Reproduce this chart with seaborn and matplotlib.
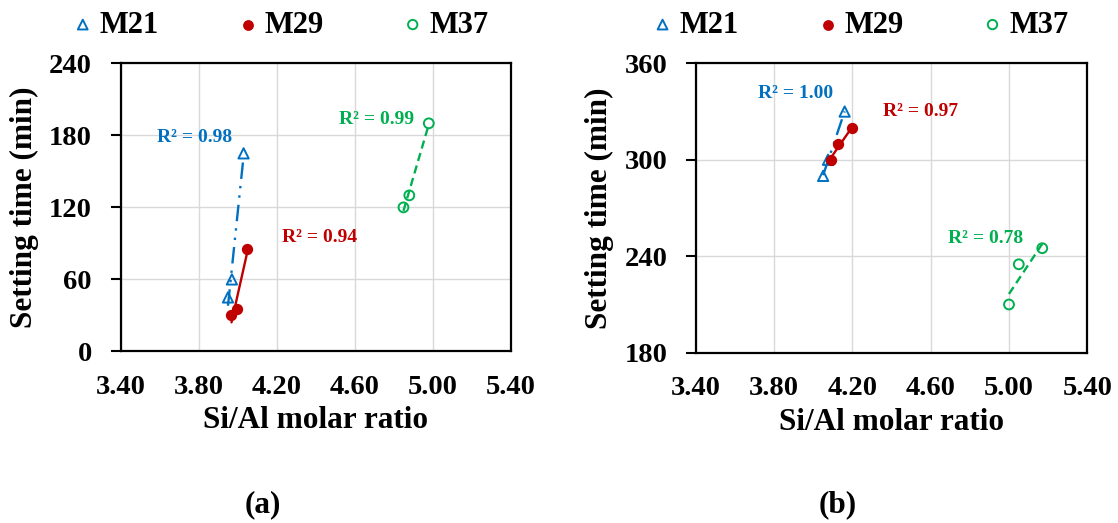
import matplotlib
matplotlib.use("Agg")
import matplotlib.pyplot as plt
import numpy as np
import seaborn as sns

# ---- data -------------------------------------------------------------
series = ["M21", "M29", "M37"]
colors = ["#0070C0", "#C00000", "#00B050"]

# panel (a): initial setting time
a_m21_x = [3.95, 3.97, 4.03]
a_m21_y = [45, 60, 165]
a_m29_x = [3.968, 3.995, 4.048]
a_m29_y = [30, 35, 85]
a_m37_x = [4.85, 4.88, 4.98]
a_m37_y = [120, 130, 190]
a_r2 = ["R² = 0.98", "R² = 0.94", "R² = 0.99"]

# panel (b): final setting time
b_m21_x = [4.05, 4.075, 4.16]
b_m21_y = [290, 300, 330]
b_m29_x = [4.09, 4.128, 4.20]
b_m29_y = [300, 310, 320]
b_m37_x = [5.00, 5.05, 5.17]
b_m37_y = [210, 235, 245]
b_r2 = ["R² = 1.00", "R² = 0.97", "R² = 0.78"]

x_ticks = [3.40, 3.80, 4.20, 4.60, 5.00, 5.40]
x_tick_labels = ["3.40", "3.80", "4.20", "4.60", "5.00", "5.40"]
a_y_ticks = [0, 60, 120, 180, 240]
b_y_ticks = [180, 240, 300, 360]

# ---- styling ------------------------------------------------------------
sns.set_theme(style="white")
plt.rcParams["font.family"] = ["Liberation Serif", "DejaVu Serif"]
plt.rcParams["font.weight"] = "bold"
for key in ["text.color", "axes.labelcolor", "xtick.color", "ytick.color"]:
    plt.rcParams[key] = "black"

markers = ["^", "o", "o"]
filled = [False, True, False]
sizes = [55, 45, 50]
trend_styles = [(0, (7, 3, 1, 3, 1, 3)), "-", (0, (3.5, 2))]

fig = plt.figure(figsize=(11.18, 5.23), dpi=100)
ax_a = fig.add_axes([0.108, 0.328, 0.3488, 0.551])
ax_b = fig.add_axes([0.6225, 0.3256, 0.350, 0.5533])


def draw_panel(ax, xs, ys, r2_text, r2_pos, yticks):
    for name, c, m, f, s, ls, x, y, txt, pos in zip(
        series, colors, markers, filled, sizes, trend_styles, xs, ys, r2_text, r2_pos
    ):
        sns.regplot(
            x=np.array(x), y=np.array(y), ax=ax, scatter=False, ci=None,
            truncate=True, color=c, line_kws=dict(lw=1.7, linestyle=ls, zorder=2),
        )
        sns.scatterplot(
            x=x, y=y, ax=ax, marker=m, s=s, color=c,
            facecolor=c if f else "none", edgecolor=c, linewidth=1.4,
            label=name, legend=False, zorder=3,
        )
        ax.text(pos[0], pos[1], txt, color=c, fontsize=14, fontweight="bold",
                ha="center", va="center")

    ax.set_xlim(x_ticks[0], x_ticks[-1])
    ax.set_xticks(x_ticks)
    ax.set_xticklabels(x_tick_labels)
    ax.set_ylim(yticks[0], yticks[-1])
    ax.set_yticks(yticks)
    ax.grid(True, color="#D9D9D9", lw=1)
    ax.set_axisbelow(True)
    for sp in ax.spines.values():
        sp.set_color("black")
        sp.set_linewidth(1.6)
    ax.tick_params(axis="y", left=True, direction="out", length=7.2, width=1.5,
                   pad=13.5, labelsize=20.5, colors="black")
    ax.tick_params(axis="x", bottom=False, length=0, pad=17,
                   labelsize=20.5, colors="black")
    ax.set_xlabel("Si/Al molar ratio", fontsize=22.5, fontweight="bold", color="black")
    ax.set_ylabel("Setting time (min)", fontsize=22.5, fontweight="bold", color="black")
    ax.xaxis.set_label_coords(0.5, -0.19)
    ax.yaxis.set_label_coords(-0.209, 0.5)


draw_panel(
    ax_a,
    [a_m21_x, a_m29_x, a_m37_x],
    [a_m21_y, a_m29_y, a_m37_y],
    a_r2,
    [(3.78, 178), (4.42, 95), (4.71, 193)],
    a_y_ticks,
)
draw_panel(
    ax_b,
    [b_m21_x, b_m29_x, b_m37_x],
    [b_m21_y, b_m29_y, b_m37_y],
    b_r2,
    [(3.91, 341), (4.55, 330), (4.88, 251)],
    b_y_ticks,
)

for ax, x0 in [(ax_a, 0.0631), (ax_b, 0.5817)]:
    handles, labels = ax.get_legend_handles_labels()
    fig.legend(
        handles, labels, loc="center left", bbox_to_anchor=(x0, 0.952),
        ncol=3, frameon=False, fontsize=22, handlelength=0.8,
        handletextpad=0.16, columnspacing=2.5, markerscale=0.95,
        borderpad=0, borderaxespad=0, labelcolor="black",
    )

fig.text(262.7 / 1118, 1 - 505 / 523, "(a)", ha="center", va="center",
         fontsize=22.5, fontweight="bold", color="black")
fig.text(838 / 1118, 1 - 505 / 523, "(b)", ha="center", va="center",
         fontsize=22.5, fontweight="bold", color="black")

fig.savefig("out.png", dpi=100)
